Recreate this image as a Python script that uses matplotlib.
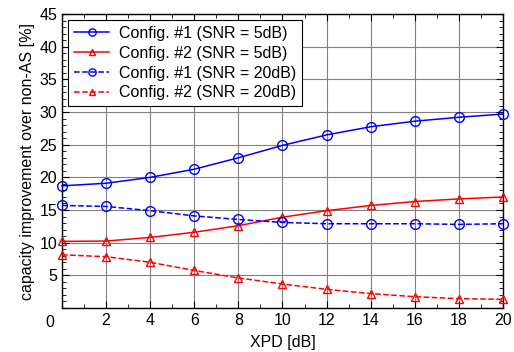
import matplotlib
matplotlib.use("Agg")
import matplotlib.pyplot as plt
from matplotlib.ticker import MultipleLocator

plt.rcParams['font.family'] = ['Liberation Sans', 'DejaVu Sans']

# XPD [dB]
xpd = [0, 2, 4, 6, 8, 10, 12, 14, 16, 18, 20]

# capacity improvement [%]
cfg1_snr5 = [18.7, 19.1, 20.0, 21.25, 23.0, 24.9, 26.5, 27.75, 28.6, 29.2, 29.7]
cfg2_snr5 = [10.2, 10.25, 10.8, 11.6, 12.6, 13.9, 14.9, 15.7, 16.3, 16.7, 17.0]
cfg1_snr20 = [15.7, 15.55, 14.9, 14.1, 13.55, 13.1, 12.9, 12.9, 12.9, 12.8, 12.9]
cfg2_snr20 = [8.15, 7.85, 7.0, 5.75, 4.6, 3.67, 2.86, 2.2, 1.73, 1.43, 1.33]

labels = ['Config. #1 (SNR = 5dB)', 'Config. #2 (SNR = 5dB)',
          'Config. #1 (SNR = 20dB)', 'Config. #2 (SNR = 20dB)']

xticks = list(range(0, 21, 2))
yticks = list(range(0, 46, 5))

fs = 11.5

fig = plt.figure(figsize=(5.14, 3.52), dpi=100)
ax = fig.add_axes([0.1206, 0.125, 0.858, 0.835])

ms = 7
ax.plot(xpd, cfg1_snr5, '-o', color='blue', mfc='none', ms=ms, lw=1.1, label=labels[0], clip_on=False, zorder=3)
ax.plot(xpd, cfg2_snr5, '-^', color='red', mfc='none', ms=ms - 1, lw=1.1, label=labels[1], clip_on=False, zorder=3)
ax.plot(xpd, cfg1_snr20, '--o', color='blue', mfc='none', ms=ms, lw=1.1, label=labels[2], clip_on=False, zorder=3)
ax.plot(xpd, cfg2_snr20, '--^', color='red', mfc='none', ms=ms - 1, lw=1.1, label=labels[3], clip_on=False, zorder=3)

# coin "0" commun aux deux axes
ax.set_xticks(xticks)
ax.set_xticklabels(['' if v == 0 else str(v) for v in xticks])
ax.set_yticks(yticks)
ax.set_yticklabels(['' if v == 0 else str(v) for v in yticks])
ax.text(-0.027, -0.05, '0', transform=ax.transAxes, ha='center', va='center', fontsize=fs)

ax.set_xlim(0, 20)
ax.set_ylim(0, 45)
ax.xaxis.set_minor_locator(MultipleLocator(1))
ax.yaxis.set_minor_locator(MultipleLocator(1))
ax.tick_params(which='both', direction='in', top=True, right=True, labelsize=fs)
ax.tick_params(which='major', length=5)
ax.tick_params(which='minor', length=3)
ax.grid(True, which='major', color='#808080', lw=0.8)

for s in ax.spines.values():
    s.set_linewidth(1.0)

ax.set_xlabel('XPD [dB]', fontsize=fs, labelpad=5)
ax.set_ylabel('capacity improvement over non-AS [%]', fontsize=fs, labelpad=3)

leg = ax.legend(loc='upper left', fontsize=fs, fancybox=False, framealpha=1,
                edgecolor='black', borderaxespad=0.4, handlelength=2.2,
                borderpad=0.35, labelspacing=0.3, handletextpad=0.6,
                markerscale=0.75)
leg.get_frame().set_linewidth(0.8)

fig.savefig('out.png', dpi=100)
